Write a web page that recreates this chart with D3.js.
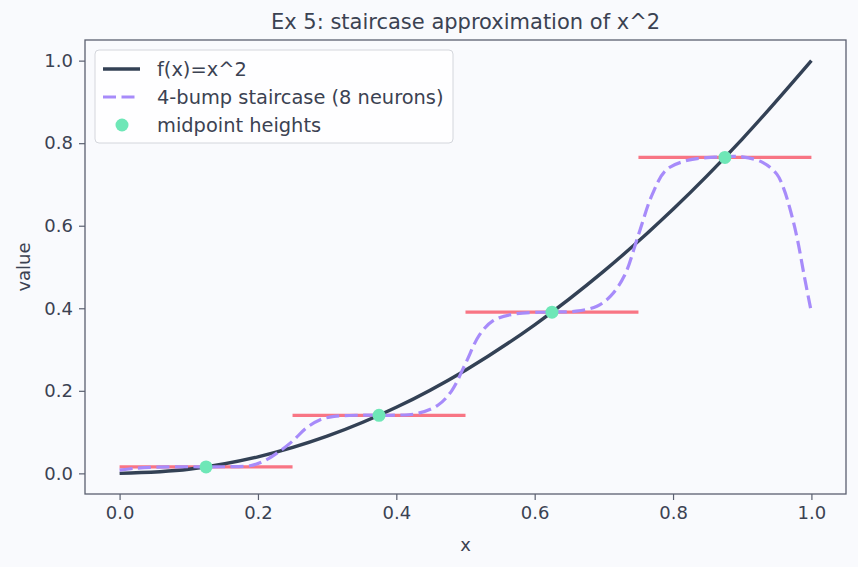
<!DOCTYPE html>
<html>
<head>
<meta charset="utf-8">
<script src="https://cdn.jsdelivr.net/npm/d3@7"></script>
<style>
  body { margin: 0; background: #f9fafc; }
  svg { display: block; font-family: "DejaVu Sans", sans-serif; }
</style>
</head>
<body>
<div id="chart"></div>
<script>
// data
const curveX = [0, 0.1, 0.2, 0.3, 0.4, 0.5, 0.6, 0.7, 0.8, 0.9, 1.0];
const curveY = [0, 0.01, 0.04, 0.09, 0.16, 0.25, 0.36, 0.49, 0.64, 0.81, 1.0];

const stairX = [0, 0.02, 0.05, 0.10, 0.15, 0.19, 0.21, 0.23, 0.25, 0.27, 0.29, 0.31, 0.35, 0.40,
  0.43, 0.46, 0.48, 0.50, 0.52, 0.54, 0.57, 0.62, 0.66, 0.69, 0.71, 0.73, 0.75, 0.77, 0.79,
  0.82, 0.86, 0.90, 0.93, 0.95, 0.96, 0.97, 0.98, 0.99, 1.0];
const stairY = [0.008, 0.012, 0.015, 0.016, 0.016, 0.019, 0.031, 0.052, 0.078, 0.110, 0.130, 0.138, 0.141, 0.141,
  0.145, 0.165, 0.200, 0.266, 0.335, 0.370, 0.386, 0.391, 0.393, 0.405, 0.430, 0.480, 0.578, 0.676, 0.735,
  0.758, 0.766, 0.767, 0.753, 0.725, 0.690, 0.635, 0.565, 0.475, 0.390];

const stepEdges = [0, 0.25, 0.5, 0.75, 1.0];
const stepHeights = [0.0156, 0.1406, 0.3906, 0.7656];
const midX = [0.125, 0.375, 0.625, 0.875];

const xTicks = [0, 0.2, 0.4, 0.6, 0.8, 1.0];
const yTicks = [0, 0.2, 0.4, 0.6, 0.8, 1.0];

const width = 858, height = 567;
const margin = {top: 40, right: 12, bottom: 73, left: 85};
const textColor = "#3b4252";
const spineColor = "#5b6070";
const dash = "13,5.5";

const svg = d3.select("#chart").append("svg")
  .attr("width", width)
  .attr("height", height);

svg.append("rect").attr("width", width).attr("height", height).attr("fill", "#f9fafd");

const x = d3.scaleLinear().domain([-0.05, 1.05]).range([margin.left, width - margin.right]);
const y = d3.scaleLinear().domain([-0.05, 1.05]).range([height - margin.bottom, margin.top]);

// axes
const xAxis = svg.append("g")
  .attr("transform", `translate(0,${height - margin.bottom})`)
  .call(d3.axisBottom(x).tickValues(xTicks).tickFormat(d3.format(".1f")).tickSize(6).tickPadding(6));
const yAxis = svg.append("g")
  .attr("transform", `translate(${margin.left},0)`)
  .call(d3.axisLeft(y).tickValues(yTicks).tickFormat(d3.format(".1f")).tickSize(6).tickPadding(6));

[xAxis, yAxis].forEach(g => {
  g.select(".domain").remove();
  g.selectAll(".tick line").attr("stroke", spineColor).attr("stroke-width", 1.2);
  g.selectAll(".tick text").attr("fill", textColor).attr("font-size", 18)
    .attr("font-family", "DejaVu Sans");
});

// frame
svg.append("rect")
  .attr("x", margin.left).attr("y", margin.top)
  .attr("width", width - margin.left - margin.right)
  .attr("height", height - margin.top - margin.bottom)
  .attr("fill", "none").attr("stroke", spineColor).attr("stroke-width", 1.3);

const plot = svg.append("g");

// staircase steps
plot.selectAll("line.step")
  .data(stepHeights)
  .join("line")
  .classed("step", true)
  .attr("x1", (d, i) => x(stepEdges[i]))
  .attr("x2", (d, i) => x(stepEdges[i + 1]))
  .attr("y1", d => y(d))
  .attr("y2", d => y(d))
  .attr("stroke", "#f87584")
  .attr("stroke-width", 3.2);

// f(x) = x^2
const line = d3.line().x(d => x(d[0])).y(d => y(d[1])).curve(d3.curveCatmullRom);
plot.append("path")
  .datum(d3.zip(curveX, curveY))
  .attr("d", line)
  .attr("fill", "none")
  .attr("stroke", "#334155")
  .attr("stroke-width", 3.4);

// staircase network output
plot.append("path")
  .datum(d3.zip(stairX, stairY))
  .attr("d", line)
  .attr("fill", "none")
  .attr("stroke", "#a78bfa")
  .attr("stroke-width", 3.2)
  .attr("stroke-dasharray", dash);

// midpoint dots
plot.selectAll("circle.mid")
  .data(midX)
  .join("circle")
  .classed("mid", true)
  .attr("cx", d => x(d))
  .attr("cy", (d, i) => y(stepHeights[i]))
  .attr("r", 6.5)
  .attr("fill", "#6ee7b7");

// title and labels
svg.append("text")
  .attr("x", (margin.left + width - margin.right) / 2)
  .attr("y", 29)
  .attr("text-anchor", "middle")
  .attr("font-size", 21)
  .attr("fill", textColor)
  .text("Ex 5: staircase approximation of x^2");

svg.append("text")
  .attr("x", (margin.left + width - margin.right) / 2)
  .attr("y", 551)
  .attr("text-anchor", "middle")
  .attr("font-size", 18)
  .attr("fill", textColor)
  .text("x");

svg.append("text")
  .attr("transform", `translate(30,${(margin.top + height - margin.bottom) / 2}) rotate(-90)`)
  .attr("text-anchor", "middle")
  .attr("font-size", 18)
  .attr("fill", textColor)
  .text("value");

// legend
const legend = svg.append("g").attr("transform", "translate(95,50)");
legend.append("rect")
  .attr("width", 358).attr("height", 93).attr("rx", 4)
  .attr("fill", "#ffffff").attr("fill-opacity", 0.8)
  .attr("stroke", "#d4d6dc").attr("stroke-width", 1);

const items = [
  {label: "f(x)=x^2", type: "line"},
  {label: "4-bump staircase (8 neurons)", type: "dash"},
  {label: "midpoint heights", type: "dot"}
];
const rows = legend.selectAll("g.item").data(items).join("g")
  .attr("transform", (d, i) => `translate(0,${19 + i * 28})`);
rows.filter(d => d.type !== "dot").append("line")
  .attr("x1", 8).attr("x2", 45).attr("y1", 0).attr("y2", 0)
  .attr("stroke", d => d.type === "line" ? "#334155" : "#a78bfa")
  .attr("stroke-width", d => d.type === "line" ? 3.4 : 3.2)
  .attr("stroke-dasharray", d => d.type === "dash" ? dash : null);
rows.filter(d => d.type === "dot").append("circle")
  .attr("cx", 27).attr("cy", 0).attr("r", 6.5).attr("fill", "#6ee7b7");
rows.append("text")
  .attr("x", 62).attr("y", 0).attr("dy", "0.35em")
  .attr("font-size", 19.4).attr("fill", textColor)
  .text(d => d.label);
</script>
</body>
</html>
